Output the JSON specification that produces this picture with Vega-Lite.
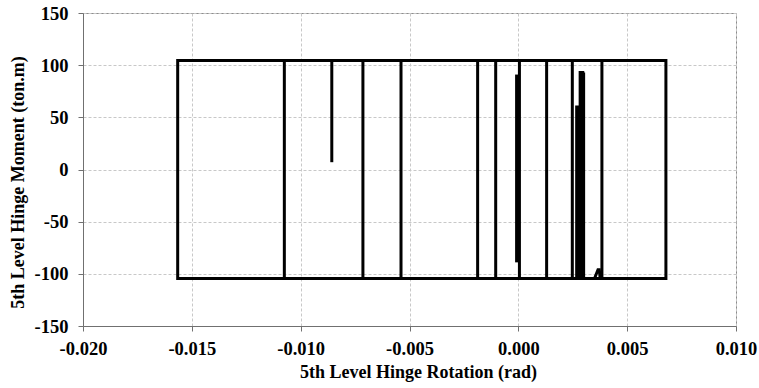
{
  "$schema": "https://vega.github.io/schema/vega-lite/v6.json",
  "autosize": "none",
  "padding": {"left": 83, "top": 13, "right": 23, "bottom": 62},
  "width": 653,
  "height": 313,
  "background": "white",
  "config": {
    "view": {"stroke": "#8c8c8c", "strokeWidth": 1},
    "axis": {
      "labelFont": "Liberation Serif",
      "labelFontWeight": "bold",
      "labelFontSize": 18.5,
      "labelColor": "black",
      "labelFlush": false,
      "labelOverlap": false,
      "titleFont": "Liberation Serif",
      "titleFontWeight": "bold",
      "titleFontSize": 18,
      "titleColor": "black",
      "domainColor": "#707070",
      "tickColor": "#707070",
      "tickSize": 5,
      "gridColor": "#c8c8c8",
      "gridDash": [3, 2],
      "gridWidth": 1
    }
  },
  "data": {
    "values": [
      {"s": "main", "o": 0, "x": 0.00005, "y": -104.5},
      {"s": "main", "o": 1, "x": 0.00005, "y": 104.5},
      {"s": "main", "o": 2, "x": 0.0013, "y": 104.5},
      {"s": "main", "o": 3, "x": 0.0013, "y": -104.5},
      {"s": "main", "o": 4, "x": -0.00104, "y": -104.5},
      {"s": "main", "o": 5, "x": -0.00104, "y": 104.5},
      {"s": "main", "o": 6, "x": 0.00248, "y": 104.5},
      {"s": "main", "o": 7, "x": 0.00248, "y": -104.5},
      {"s": "main", "o": 8, "x": -0.00187, "y": -104.5},
      {"s": "main", "o": 9, "x": -0.00187, "y": 104.5},
      {"s": "main", "o": 10, "x": 0.00384, "y": 104.5},
      {"s": "main", "o": 11, "x": 0.00384, "y": -104.5},
      {"s": "main", "o": 12, "x": -0.00539, "y": -104.5},
      {"s": "main", "o": 13, "x": -0.00539, "y": 104.5},
      {"s": "main", "o": 14, "x": 0.00678, "y": 104.5},
      {"s": "main", "o": 15, "x": 0.00678, "y": -104.5},
      {"s": "main", "o": 16, "x": -0.00714, "y": -104.5},
      {"s": "main", "o": 17, "x": -0.00714, "y": 104.5},
      {"s": "main", "o": 18, "x": 0.00678, "y": 104.5},
      {"s": "main", "o": 19, "x": 0.00678, "y": -104.5},
      {"s": "main", "o": 20, "x": -0.01075, "y": -104.5},
      {"s": "main", "o": 21, "x": -0.01075, "y": 104.5},
      {"s": "main", "o": 22, "x": 0.00678, "y": 104.5},
      {"s": "main", "o": 23, "x": 0.00678, "y": -104.5},
      {"s": "main", "o": 24, "x": -0.01565, "y": -104.5},
      {"s": "main", "o": 25, "x": -0.01565, "y": 104.5},
      {"s": "main", "o": 26, "x": 0.00678, "y": 104.5},
      {"s": "main", "o": 27, "x": 0.00678, "y": 85},
      {"s": "p1", "o": 0, "x": -0.00857, "y": 104.5},
      {"s": "p1", "o": 1, "x": -0.00857, "y": 7},
      {"s": "p2", "o": 0, "x": -0.00008, "y": 91},
      {"s": "p2", "o": 1, "x": -0.00008, "y": -89},
      {"s": "c1", "o": 0, "x": 0.00268, "y": -104.5},
      {"s": "c1", "o": 1, "x": 0.00268, "y": 60},
      {"s": "c1", "o": 2, "x": 0.00272, "y": 60},
      {"s": "c1", "o": 3, "x": 0.00272, "y": -104.5},
      {"s": "c1", "o": 4, "x": 0.00276, "y": -104.5},
      {"s": "c1", "o": 5, "x": 0.00276, "y": 60},
      {"s": "c1", "o": 6, "x": 0.0028, "y": 60},
      {"s": "c1", "o": 7, "x": 0.0028, "y": -104.5},
      {"s": "c2", "o": 0, "x": 0.00284, "y": -104.5},
      {"s": "c2", "o": 1, "x": 0.00284, "y": 93},
      {"s": "c2", "o": 2, "x": 0.00288, "y": 93},
      {"s": "c2", "o": 3, "x": 0.00288, "y": -104.5},
      {"s": "c2", "o": 4, "x": 0.00292, "y": -104.5},
      {"s": "c2", "o": 5, "x": 0.00292, "y": 93},
      {"s": "c2", "o": 6, "x": 0.00296, "y": 93},
      {"s": "c2", "o": 7, "x": 0.00296, "y": -104.5},
      {"s": "c2", "o": 8, "x": 0.003, "y": -104.5},
      {"s": "c2", "o": 9, "x": 0.003, "y": 93},
      {"s": "b1", "o": 0, "x": 0.0035, "y": -104.5},
      {"s": "b1", "o": 1, "x": 0.00366, "y": -96},
      {"s": "b1", "o": 2, "x": 0.00372, "y": -96},
      {"s": "b1", "o": 3, "x": 0.00376, "y": -104.5}
    ]
  },
  "mark": {"type": "line", "color": "black", "strokeWidth": 3, "strokeJoin": "miter", "clip": true},
  "encoding": {
    "x": {
      "field": "x",
      "type": "quantitative",
      "scale": {"domain": [-0.02, 0.01], "nice": false, "zero": false},
      "axis": {
        "values": [-0.02, -0.015, -0.01, -0.005, 0, 0.005, 0.01],
        "labelExpr": "replace(format(datum.value, '.3f'), '\u2212', '-')",
        "title": "5th Level Hinge Rotation (rad)",
        "labelPadding": 8,
        "titlePadding": 6,
        "titleX": 335
      }
    },
    "y": {
      "field": "y",
      "type": "quantitative",
      "scale": {"domain": [-150, 150], "nice": false, "zero": false},
      "axis": {
        "values": [-150, -100, -50, 0, 50, 100, 150],
        "labelExpr": "replace(format(datum.value, 'd'), '\u2212', '-')",
        "title": "5th Level Hinge Moment (ton.m)",
        "labelPadding": 10,
        "titlePadding": 7,
        "titleY": 169
      }
    },
    "detail": {"field": "s"},
    "order": {"field": "o", "type": "quantitative"}
  }
}
